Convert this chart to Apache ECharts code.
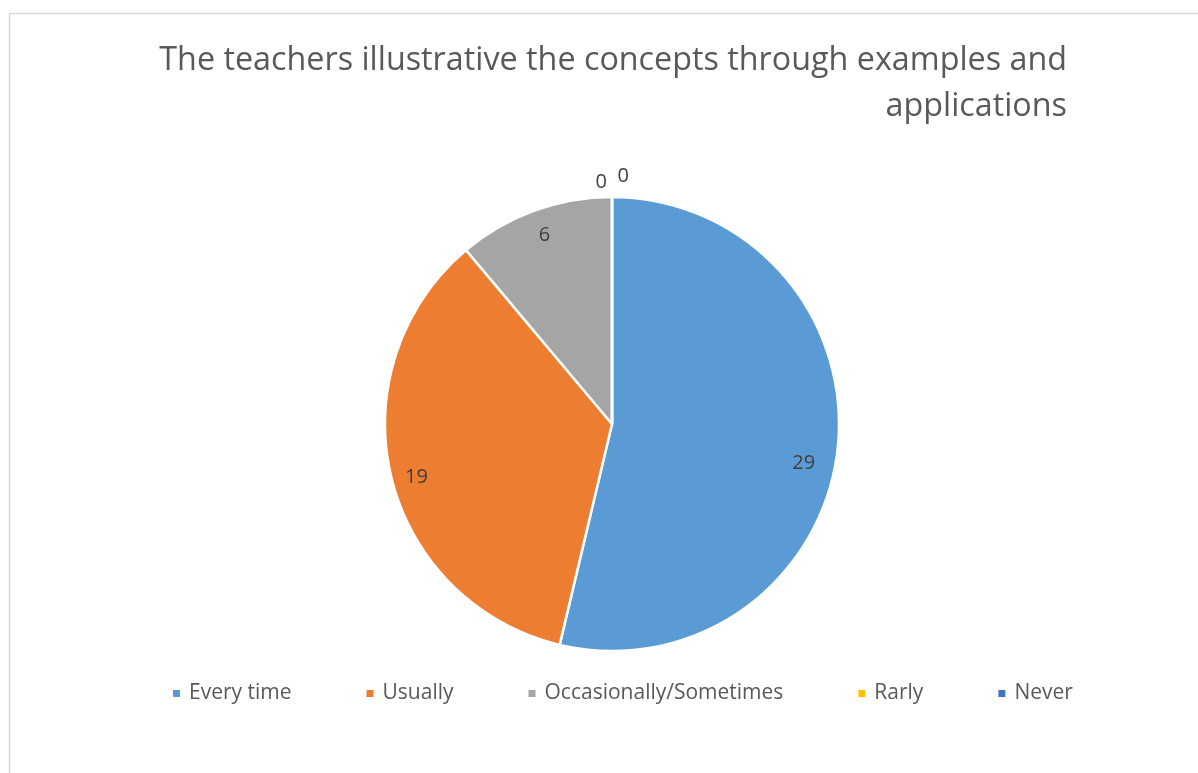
<!DOCTYPE html>
<html>
<head>
<meta charset="utf-8">
<script src="https://cdn.jsdelivr.net/npm/echarts@6/dist/echarts.min.js"></script>
<style>
  html, body { margin: 0; padding: 0; background: #fff; }
  #chart { width: 1198px; height: 773px; }
</style>
</head>
<body>
<div id="chart"></div>
<script>
const titleLines = ['The teachers illustrative the concepts through examples and', 'applications']
const categories = ['Every time', 'Usually', 'Occasionally/Sometimes', 'Rarly', 'Never']
const counts = [29, 19, 6, 0, 0]
const colors = ['#5B9BD5', '#ED7D31', '#A5A5A5', '#FFC000', '#4472C4']

const font = 'Open Sans'
const chart = echarts.init(document.getElementById('chart'))

// nudges so the labels sit where Excel's best-fit put them
const labelOffsets = [[-10, 16], [2, 6], [2, 2], [30, 0], [52, -6]]

// slices, with the zero rows labelled above the pie
const sliceData = categories.map((name, i) => ({
  name,
  value: counts[i],
  itemStyle: { color: colors[i] },
  label: counts[i] === 0
    ? { show: true, position: 'outside', distance: 4, offset: labelOffsets[i] }
    : { show: false }
}))

// transparent ring used only to place the inside labels near the rim
const labelData = categories.map((name, i) => ({
  name,
  value: counts[i],
  label: { show: counts[i] !== 0, offset: labelOffsets[i] }
}))

// title lines, each right-aligned to the same edge
const titleGraphics = titleLines.map((line, i) => ({
  type: 'text',
  right: 131,
  top: 45 + i * 46,
  silent: true,
  style: { text: line, font: '32.3px "Open Sans"', fill: '#595959' }
}))

chart.setOption({
  animation: false,
  color: colors,
  legend: {
    left: 171,
    top: 683,
    padding: 0,
    itemWidth: 9,
    itemHeight: 9,
    itemGap: 73,
    icon: 'rect',
    textStyle: { fontFamily: font, fontSize: 21, color: '#595959', padding: [0, 0, 0, 3] },
    data: categories
  },
  graphic: [
    {
      type: 'rect',
      shape: { x: 9.5, y: 13.5, width: 1400, height: 1000 },
      style: { fill: 'none', stroke: '#d9d9d9', lineWidth: 1.5 },
      silent: true
    },
    ...titleGraphics
  ],
  series: [
    {
      type: 'pie',
      center: [612, 424],
      radius: 227,
      startAngle: 90,
      clockwise: true,
      avoidLabelOverlap: false,
      itemStyle: { borderColor: '#fff', borderWidth: 2.5 },
      label: { fontFamily: font, fontSize: 20, color: '#404040', formatter: '{c}' },
      labelLine: { show: false },
      emphasis: { disabled: true },
      data: sliceData
    },
    {
      type: 'pie',
      center: [612, 424],
      radius: [173, 227],
      startAngle: 90,
      clockwise: true,
      silent: true,
      legendHoverLink: false,
      avoidLabelOverlap: false,
      itemStyle: { color: 'rgba(0,0,0,0)', borderWidth: 0 },
      label: { position: 'inside', fontFamily: font, fontSize: 20, color: '#404040', formatter: '{c}' },
      labelLine: { show: false },
      emphasis: { disabled: true },
      data: labelData
    }
  ]
})
</script>
</body>
</html>
